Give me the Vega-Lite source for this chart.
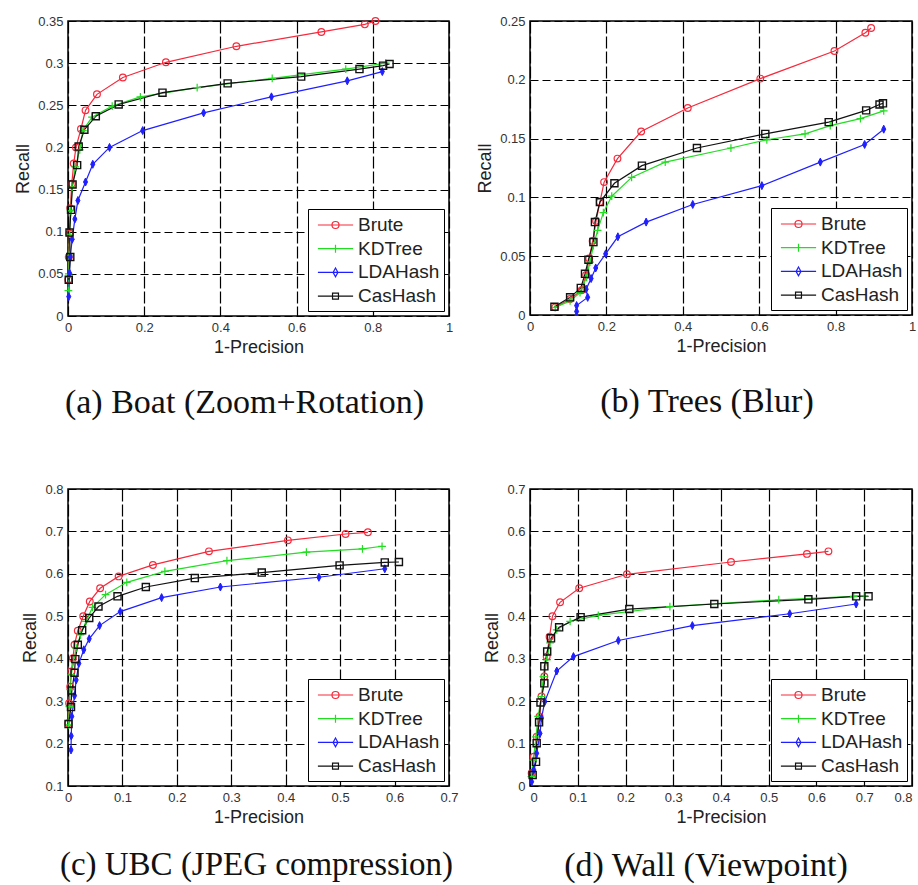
{
  "$schema": "https://vega.github.io/schema/vega-lite/v6.json",
  "background": "white",
  "padding": {"left": 13, "top": 14, "right": 0, "bottom": 0},
  "config": {
    "view": {"stroke": "black", "strokeWidth": 1.5},
    "font": "Liberation Sans",
    "axis": {"grid": true, "gridColor": "black", "gridWidth": 1.2, "gridOpacity": 1, "domain": false, "ticks": false, "labelFont": "Liberation Sans", "labelFontSize": 13, "labelColor": "#333", "labelPadding": 5, "labelFlush": false, "labelOverlap": false, "titleFont": "Liberation Sans", "titleFontSize": 18, "titleFontWeight": "normal", "titleColor": "#222", "format": "~g"},
    "axisX": {"titlePadding": 4, "gridDash": [12, 3]},
    "axisY": {"titlePadding": 5, "gridDash": [8, 4]},
    "title": {"orient": "bottom", "font": "Liberation Serif", "fontSize": 34, "fontWeight": "normal", "color": "#111", "offset": 30, "frame": "group"},
    "legend": {"orient": "bottom-right", "offset": 5, "strokeColor": "black", "fillColor": "white", "padding": 4, "symbolSize": 484, "rowPadding": 1.7, "symbolOffset": 11.5, "labelOffset": 10.5, "labelFont": "Liberation Sans", "labelFontSize": 19, "labelColor": "#222", "symbolStrokeWidth": 1.2, "symbolOpacity": 1, "symbolFillColor": "transparent", "title": null}
  },
  "datasets": {
    "a": [
      {"method": "Brute", "fp": 0.807, "recall": 0.350}, {"method": "Brute", "fp": 0.779, "recall": 0.346}, {"method": "Brute", "fp": 0.665, "recall": 0.337}, {"method": "Brute", "fp": 0.442, "recall": 0.320}, {"method": "Brute", "fp": 0.257, "recall": 0.301}, {"method": "Brute", "fp": 0.144, "recall": 0.283}, {"method": "Brute", "fp": 0.076, "recall": 0.263}, {"method": "Brute", "fp": 0.046, "recall": 0.244}, {"method": "Brute", "fp": 0.034, "recall": 0.222}, {"method": "Brute", "fp": 0.021, "recall": 0.200}, {"method": "Brute", "fp": 0.015, "recall": 0.181}, {"method": "Brute", "fp": 0.010, "recall": 0.157}, {"method": "Brute", "fp": 0.006, "recall": 0.128}, {"method": "Brute", "fp": 0.004, "recall": 0.098}, {"method": "Brute", "fp": 0.002, "recall": 0.070}, {"method": "Brute", "fp": 0.001, "recall": 0.043},
      {"method": "KDTree", "fp": 0.834, "recall": 0.300}, {"method": "KDTree", "fp": 0.729, "recall": 0.293}, {"method": "KDTree", "fp": 0.536, "recall": 0.282}, {"method": "KDTree", "fp": 0.339, "recall": 0.271}, {"method": "KDTree", "fp": 0.190, "recall": 0.260}, {"method": "KDTree", "fp": 0.116, "recall": 0.249}, {"method": "KDTree", "fp": 0.063, "recall": 0.236}, {"method": "KDTree", "fp": 0.039, "recall": 0.220}, {"method": "KDTree", "fp": 0.031, "recall": 0.197}, {"method": "KDTree", "fp": 0.019, "recall": 0.177}, {"method": "KDTree", "fp": 0.011, "recall": 0.153}, {"method": "KDTree", "fp": 0.007, "recall": 0.125}, {"method": "KDTree", "fp": 0.004, "recall": 0.097}, {"method": "KDTree", "fp": 0.003, "recall": 0.072}, {"method": "KDTree", "fp": 0.002, "recall": 0.050}, {"method": "KDTree", "fp": 0.001, "recall": 0.030},
      {"method": "LDAHash", "fp": 0.825, "recall": 0.290}, {"method": "LDAHash", "fp": 0.733, "recall": 0.279}, {"method": "LDAHash", "fp": 0.534, "recall": 0.260}, {"method": "LDAHash", "fp": 0.356, "recall": 0.241}, {"method": "LDAHash", "fp": 0.196, "recall": 0.220}, {"method": "LDAHash", "fp": 0.109, "recall": 0.200}, {"method": "LDAHash", "fp": 0.065, "recall": 0.180}, {"method": "LDAHash", "fp": 0.046, "recall": 0.159}, {"method": "LDAHash", "fp": 0.026, "recall": 0.137}, {"method": "LDAHash", "fp": 0.018, "recall": 0.115}, {"method": "LDAHash", "fp": 0.011, "recall": 0.091}, {"method": "LDAHash", "fp": 0.006, "recall": 0.070}, {"method": "LDAHash", "fp": 0.004, "recall": 0.051}, {"method": "LDAHash", "fp": 0.002, "recall": 0.023},
      {"method": "CasHash", "fp": 0.844, "recall": 0.299}, {"method": "CasHash", "fp": 0.827, "recall": 0.297}, {"method": "CasHash", "fp": 0.765, "recall": 0.293}, {"method": "CasHash", "fp": 0.612, "recall": 0.284}, {"method": "CasHash", "fp": 0.419, "recall": 0.276}, {"method": "CasHash", "fp": 0.248, "recall": 0.265}, {"method": "CasHash", "fp": 0.133, "recall": 0.251}, {"method": "CasHash", "fp": 0.073, "recall": 0.237}, {"method": "CasHash", "fp": 0.043, "recall": 0.221}, {"method": "CasHash", "fp": 0.028, "recall": 0.201}, {"method": "CasHash", "fp": 0.024, "recall": 0.179}, {"method": "CasHash", "fp": 0.012, "recall": 0.156}, {"method": "CasHash", "fp": 0.008, "recall": 0.126}, {"method": "CasHash", "fp": 0.004, "recall": 0.099}, {"method": "CasHash", "fp": 0.006, "recall": 0.070}, {"method": "CasHash", "fp": 0.002, "recall": 0.043}
    ],
    "b": [
      {"method": "Brute", "fp": 0.893, "recall": 0.244}, {"method": "Brute", "fp": 0.878, "recall": 0.240}, {"method": "Brute", "fp": 0.797, "recall": 0.2245}, {"method": "Brute", "fp": 0.603, "recall": 0.201}, {"method": "Brute", "fp": 0.413, "recall": 0.176}, {"method": "Brute", "fp": 0.291, "recall": 0.156}, {"method": "Brute", "fp": 0.229, "recall": 0.133}, {"method": "Brute", "fp": 0.194, "recall": 0.113}, {"method": "Brute", "fp": 0.183, "recall": 0.096}, {"method": "Brute", "fp": 0.173, "recall": 0.080}, {"method": "Brute", "fp": 0.164, "recall": 0.063}, {"method": "Brute", "fp": 0.155, "recall": 0.048}, {"method": "Brute", "fp": 0.147, "recall": 0.034}, {"method": "Brute", "fp": 0.135, "recall": 0.021}, {"method": "Brute", "fp": 0.105, "recall": 0.0136}, {"method": "Brute", "fp": 0.066, "recall": 0.0065},
      {"method": "KDTree", "fp": 0.926, "recall": 0.1736}, {"method": "KDTree", "fp": 0.865, "recall": 0.167}, {"method": "KDTree", "fp": 0.786, "recall": 0.161}, {"method": "KDTree", "fp": 0.720, "recall": 0.154}, {"method": "KDTree", "fp": 0.620, "recall": 0.149}, {"method": "KDTree", "fp": 0.526, "recall": 0.142}, {"method": "KDTree", "fp": 0.354, "recall": 0.130}, {"method": "KDTree", "fp": 0.266, "recall": 0.117}, {"method": "KDTree", "fp": 0.214, "recall": 0.101}, {"method": "KDTree", "fp": 0.192, "recall": 0.087}, {"method": "KDTree", "fp": 0.177, "recall": 0.072}, {"method": "KDTree", "fp": 0.166, "recall": 0.059}, {"method": "KDTree", "fp": 0.157, "recall": 0.045}, {"method": "KDTree", "fp": 0.148, "recall": 0.032}, {"method": "KDTree", "fp": 0.131, "recall": 0.019}, {"method": "KDTree", "fp": 0.105, "recall": 0.012}, {"method": "KDTree", "fp": 0.066, "recall": 0.0065},
      {"method": "LDAHash", "fp": 0.926, "recall": 0.158}, {"method": "LDAHash", "fp": 0.876, "recall": 0.145}, {"method": "LDAHash", "fp": 0.760, "recall": 0.130}, {"method": "LDAHash", "fp": 0.607, "recall": 0.110}, {"method": "LDAHash", "fp": 0.426, "recall": 0.094}, {"method": "LDAHash", "fp": 0.304, "recall": 0.079}, {"method": "LDAHash", "fp": 0.230, "recall": 0.0665}, {"method": "LDAHash", "fp": 0.198, "recall": 0.052}, {"method": "LDAHash", "fp": 0.172, "recall": 0.040}, {"method": "LDAHash", "fp": 0.160, "recall": 0.031}, {"method": "LDAHash", "fp": 0.147, "recall": 0.022}, {"method": "LDAHash", "fp": 0.151, "recall": 0.015}, {"method": "LDAHash", "fp": 0.122, "recall": 0.008}, {"method": "LDAHash", "fp": 0.122, "recall": 0.003},
      {"method": "CasHash", "fp": 0.924, "recall": 0.180}, {"method": "CasHash", "fp": 0.915, "recall": 0.179}, {"method": "CasHash", "fp": 0.880, "recall": 0.174}, {"method": "CasHash", "fp": 0.782, "recall": 0.164}, {"method": "CasHash", "fp": 0.616, "recall": 0.154}, {"method": "CasHash", "fp": 0.437, "recall": 0.142}, {"method": "CasHash", "fp": 0.293, "recall": 0.127}, {"method": "CasHash", "fp": 0.221, "recall": 0.112}, {"method": "CasHash", "fp": 0.183, "recall": 0.096}, {"method": "CasHash", "fp": 0.170, "recall": 0.079}, {"method": "CasHash", "fp": 0.166, "recall": 0.062}, {"method": "CasHash", "fp": 0.153, "recall": 0.047}, {"method": "CasHash", "fp": 0.144, "recall": 0.035}, {"method": "CasHash", "fp": 0.133, "recall": 0.023}, {"method": "CasHash", "fp": 0.105, "recall": 0.015}, {"method": "CasHash", "fp": 0.064, "recall": 0.007}
    ],
    "c": [
      {"method": "Brute", "fp": 0.551, "recall": 0.698}, {"method": "Brute", "fp": 0.510, "recall": 0.694}, {"method": "Brute", "fp": 0.404, "recall": 0.679}, {"method": "Brute", "fp": 0.259, "recall": 0.653}, {"method": "Brute", "fp": 0.156, "recall": 0.621}, {"method": "Brute", "fp": 0.093, "recall": 0.594}, {"method": "Brute", "fp": 0.059, "recall": 0.566}, {"method": "Brute", "fp": 0.040, "recall": 0.535}, {"method": "Brute", "fp": 0.028, "recall": 0.500}, {"method": "Brute", "fp": 0.018, "recall": 0.466}, {"method": "Brute", "fp": 0.012, "recall": 0.433}, {"method": "Brute", "fp": 0.009, "recall": 0.401}, {"method": "Brute", "fp": 0.006, "recall": 0.370}, {"method": "Brute", "fp": 0.004, "recall": 0.334}, {"method": "Brute", "fp": 0.002, "recall": 0.295}, {"method": "Brute", "fp": 0.0006, "recall": 0.248},
      {"method": "KDTree", "fp": 0.577, "recall": 0.665}, {"method": "KDTree", "fp": 0.541, "recall": 0.659}, {"method": "KDTree", "fp": 0.438, "recall": 0.651}, {"method": "KDTree", "fp": 0.292, "recall": 0.631}, {"method": "KDTree", "fp": 0.178, "recall": 0.606}, {"method": "KDTree", "fp": 0.108, "recall": 0.580}, {"method": "KDTree", "fp": 0.069, "recall": 0.551}, {"method": "KDTree", "fp": 0.045, "recall": 0.521}, {"method": "KDTree", "fp": 0.033, "recall": 0.488}, {"method": "KDTree", "fp": 0.023, "recall": 0.456}, {"method": "KDTree", "fp": 0.015, "recall": 0.425}, {"method": "KDTree", "fp": 0.010, "recall": 0.393}, {"method": "KDTree", "fp": 0.006, "recall": 0.362}, {"method": "KDTree", "fp": 0.004, "recall": 0.327}, {"method": "KDTree", "fp": 0.0025, "recall": 0.287}, {"method": "KDTree", "fp": 0.001, "recall": 0.244},
      {"method": "LDAHash", "fp": 0.582, "recall": 0.612}, {"method": "LDAHash", "fp": 0.461, "recall": 0.592}, {"method": "LDAHash", "fp": 0.280, "recall": 0.569}, {"method": "LDAHash", "fp": 0.172, "recall": 0.544}, {"method": "LDAHash", "fp": 0.096, "recall": 0.511}, {"method": "LDAHash", "fp": 0.058, "recall": 0.478}, {"method": "LDAHash", "fp": 0.039, "recall": 0.447}, {"method": "LDAHash", "fp": 0.029, "recall": 0.421}, {"method": "LDAHash", "fp": 0.020, "recall": 0.389}, {"method": "LDAHash", "fp": 0.015, "recall": 0.350}, {"method": "LDAHash", "fp": 0.012, "recall": 0.313}, {"method": "LDAHash", "fp": 0.007, "recall": 0.264}, {"method": "LDAHash", "fp": 0.006, "recall": 0.218}, {"method": "LDAHash", "fp": 0.0055, "recall": 0.185},
      {"method": "CasHash", "fp": 0.608, "recall": 0.628}, {"method": "CasHash", "fp": 0.582, "recall": 0.627}, {"method": "CasHash", "fp": 0.499, "recall": 0.620}, {"method": "CasHash", "fp": 0.356, "recall": 0.603}, {"method": "CasHash", "fp": 0.233, "recall": 0.590}, {"method": "CasHash", "fp": 0.143, "recall": 0.569}, {"method": "CasHash", "fp": 0.091, "recall": 0.547}, {"method": "CasHash", "fp": 0.056, "recall": 0.523}, {"method": "CasHash", "fp": 0.039, "recall": 0.496}, {"method": "CasHash", "fp": 0.026, "recall": 0.467}, {"method": "CasHash", "fp": 0.018, "recall": 0.433}, {"method": "CasHash", "fp": 0.0135, "recall": 0.399}, {"method": "CasHash", "fp": 0.012, "recall": 0.367}, {"method": "CasHash", "fp": 0.007, "recall": 0.325}, {"method": "CasHash", "fp": 0.0055, "recall": 0.286}, {"method": "CasHash", "fp": 0.001, "recall": 0.246}
    ],
    "d": [
      {"method": "Brute", "fp": 0.625, "recall": 0.553}, {"method": "Brute", "fp": 0.580, "recall": 0.547}, {"method": "Brute", "fp": 0.421, "recall": 0.528}, {"method": "Brute", "fp": 0.203, "recall": 0.499}, {"method": "Brute", "fp": 0.103, "recall": 0.466}, {"method": "Brute", "fp": 0.063, "recall": 0.433}, {"method": "Brute", "fp": 0.047, "recall": 0.400}, {"method": "Brute", "fp": 0.041, "recall": 0.352}, {"method": "Brute", "fp": 0.035, "recall": 0.305}, {"method": "Brute", "fp": 0.030, "recall": 0.258}, {"method": "Brute", "fp": 0.024, "recall": 0.211}, {"method": "Brute", "fp": 0.020, "recall": 0.164}, {"method": "Brute", "fp": 0.014, "recall": 0.116}, {"method": "Brute", "fp": 0.008, "recall": 0.069}, {"method": "Brute", "fp": 0.0035, "recall": 0.030},
      {"method": "KDTree", "fp": 0.700, "recall": 0.448}, {"method": "KDTree", "fp": 0.678, "recall": 0.447}, {"method": "KDTree", "fp": 0.521, "recall": 0.439}, {"method": "KDTree", "fp": 0.293, "recall": 0.423}, {"method": "KDTree", "fp": 0.143, "recall": 0.402}, {"method": "KDTree", "fp": 0.084, "recall": 0.388}, {"method": "KDTree", "fp": 0.056, "recall": 0.368}, {"method": "KDTree", "fp": 0.042, "recall": 0.337}, {"method": "KDTree", "fp": 0.035, "recall": 0.297}, {"method": "KDTree", "fp": 0.028, "recall": 0.258}, {"method": "KDTree", "fp": 0.024, "recall": 0.211}, {"method": "KDTree", "fp": 0.017, "recall": 0.164}, {"method": "KDTree", "fp": 0.0126, "recall": 0.116}, {"method": "KDTree", "fp": 0.007, "recall": 0.061}, {"method": "KDTree", "fp": 0.003, "recall": 0.022},
      {"method": "LDAHash", "fp": 0.683, "recall": 0.429}, {"method": "LDAHash", "fp": 0.544, "recall": 0.406}, {"method": "LDAHash", "fp": 0.340, "recall": 0.378}, {"method": "LDAHash", "fp": 0.185, "recall": 0.343}, {"method": "LDAHash", "fp": 0.091, "recall": 0.305}, {"method": "LDAHash", "fp": 0.056, "recall": 0.271}, {"method": "LDAHash", "fp": 0.031, "recall": 0.199}, {"method": "LDAHash", "fp": 0.024, "recall": 0.160}, {"method": "LDAHash", "fp": 0.021, "recall": 0.124}, {"method": "LDAHash", "fp": 0.014, "recall": 0.077}, {"method": "LDAHash", "fp": 0.008, "recall": 0.038}, {"method": "LDAHash", "fp": 0.0035, "recall": 0.010},
      {"method": "CasHash", "fp": 0.709, "recall": 0.447}, {"method": "CasHash", "fp": 0.683, "recall": 0.447}, {"method": "CasHash", "fp": 0.583, "recall": 0.440}, {"method": "CasHash", "fp": 0.386, "recall": 0.429}, {"method": "CasHash", "fp": 0.208, "recall": 0.417}, {"method": "CasHash", "fp": 0.106, "recall": 0.398}, {"method": "CasHash", "fp": 0.061, "recall": 0.374}, {"method": "CasHash", "fp": 0.044, "recall": 0.348}, {"method": "CasHash", "fp": 0.036, "recall": 0.317}, {"method": "CasHash", "fp": 0.030, "recall": 0.282}, {"method": "CasHash", "fp": 0.030, "recall": 0.242}, {"method": "CasHash", "fp": 0.022, "recall": 0.197}, {"method": "CasHash", "fp": 0.019, "recall": 0.150}, {"method": "CasHash", "fp": 0.014, "recall": 0.101}, {"method": "CasHash", "fp": 0.0126, "recall": 0.057}, {"method": "CasHash", "fp": 0.0056, "recall": 0.026}
    ]
  },
  "columns": 2,
  "bounds": "flush",
  "spacing": {"row": 173, "column": 81},
  "concat": [
    {
      "width": 381, "height": 295,
      "data": {"name": "a"},
      "title": {"text": "(a) Boat (Zoom+Rotation)", "dx": -14},
      "encoding": {
        "x": {"field": "fp", "type": "quantitative", "scale": {"domain": [0, 1], "nice": false, "zero": false}, "axis": {"title": "1-Precision", "values": [0, 0.2, 0.4, 0.6, 0.8, 1]}},
        "y": {"field": "recall", "type": "quantitative", "scale": {"domain": [0, 0.35], "nice": false, "zero": false}, "axis": {"title": "Recall", "values": [0, 0.05, 0.1, 0.15, 0.2, 0.25, 0.3, 0.35]}},
        "color": {"field": "method", "type": "nominal", "scale": {"domain": ["Brute", "KDTree", "LDAHash", "CasHash"], "range": ["#f52a3c", "#22dd22", "#1f1fff", "#111111"]}, "legend": {"symbolOpacity": 1, "symbolFillColor": "transparent", "encode": {"symbols": {"update": {"fill": {"value": "transparent"}}}}}}
      },
      "layer": [
        {"mark": {"type": "point", "filled": false, "opacity": 0},
         "encoding": {"shape": {"field": "method", "type": "nominal", "scale": {"domain": ["Brute", "KDTree", "LDAHash", "CasHash"], "range": ["M-1.6,0H1.6M0.32,0A0.32,0.32 0 1 1 -0.32,0A0.32,0.32 0 1 1 0.32,0Z", "M-1.6,0H1.6M0,-0.36V0.36", "M-1.6,0H1.6M0,-0.4L0.22,0L0,0.4L-0.22,0Z", "M-1.6,0H1.6M-0.27,-0.27H0.27V0.27H-0.27Z"]}, "legend": {"symbolOpacity": 1, "symbolFillColor": "transparent", "encode": {"symbols": {"update": {"fill": {"value": "transparent"}}}}}}}},
        {"mark": {"type": "line", "strokeWidth": 1.2}, "encoding": {"order": {"value": null}}},
        {"transform": [{"filter": {"field": "method", "equal": "Brute"}}], "mark": {"type": "point", "shape": "circle", "filled": false, "size": 45, "strokeWidth": 1.2, "opacity": 1}},
        {"transform": [{"filter": {"field": "method", "equal": "KDTree"}}], "mark": {"type": "point", "shape": "M-1,0H1M0,-1V1", "filled": false, "size": 60, "strokeWidth": 1.2, "opacity": 1}},
        {"transform": [{"filter": {"field": "method", "equal": "LDAHash"}}], "mark": {"type": "point", "shape": "M0,-1L0.5,0L0,1L-0.5,0Z", "filled": false, "fill": "#1f1fff", "size": 64, "strokeWidth": 1, "opacity": 1}},
        {"transform": [{"filter": {"field": "method", "equal": "CasHash"}}], "mark": {"type": "point", "shape": "square", "filled": false, "size": 50, "strokeWidth": 1.4, "opacity": 1}}
      ]
    },
    {
      "width": 382, "height": 294,
      "data": {"name": "b"},
      "title": {"text": "(b) Trees (Blur)", "dx": -14},
      "encoding": {
        "x": {"field": "fp", "type": "quantitative", "scale": {"domain": [0, 1], "nice": false, "zero": false}, "axis": {"title": "1-Precision", "values": [0, 0.2, 0.4, 0.6, 0.8, 1]}},
        "y": {"field": "recall", "type": "quantitative", "scale": {"domain": [0, 0.25], "nice": false, "zero": false}, "axis": {"title": "Recall", "values": [0, 0.05, 0.1, 0.15, 0.2, 0.25]}},
        "color": {"field": "method", "type": "nominal", "scale": {"domain": ["Brute", "KDTree", "LDAHash", "CasHash"], "range": ["#f52a3c", "#22dd22", "#1f1fff", "#111111"]}, "legend": {"symbolOpacity": 1, "symbolFillColor": "transparent", "encode": {"symbols": {"update": {"fill": {"value": "transparent"}}}}}}
      },
      "layer": [
        {"mark": {"type": "point", "filled": false, "opacity": 0},
         "encoding": {"shape": {"field": "method", "type": "nominal", "scale": {"domain": ["Brute", "KDTree", "LDAHash", "CasHash"], "range": ["M-1.6,0H1.6M0.32,0A0.32,0.32 0 1 1 -0.32,0A0.32,0.32 0 1 1 0.32,0Z", "M-1.6,0H1.6M0,-0.36V0.36", "M-1.6,0H1.6M0,-0.4L0.22,0L0,0.4L-0.22,0Z", "M-1.6,0H1.6M-0.27,-0.27H0.27V0.27H-0.27Z"]}, "legend": {"symbolOpacity": 1, "symbolFillColor": "transparent", "encode": {"symbols": {"update": {"fill": {"value": "transparent"}}}}}}}},
        {"mark": {"type": "line", "strokeWidth": 1.2}, "encoding": {"order": {"value": null}}},
        {"transform": [{"filter": {"field": "method", "equal": "Brute"}}], "mark": {"type": "point", "shape": "circle", "filled": false, "size": 45, "strokeWidth": 1.2, "opacity": 1}},
        {"transform": [{"filter": {"field": "method", "equal": "KDTree"}}], "mark": {"type": "point", "shape": "M-1,0H1M0,-1V1", "filled": false, "size": 60, "strokeWidth": 1.2, "opacity": 1}},
        {"transform": [{"filter": {"field": "method", "equal": "LDAHash"}}], "mark": {"type": "point", "shape": "M0,-1L0.5,0L0,1L-0.5,0Z", "filled": false, "fill": "#1f1fff", "size": 64, "strokeWidth": 1, "opacity": 1}},
        {"transform": [{"filter": {"field": "method", "equal": "CasHash"}}], "mark": {"type": "point", "shape": "square", "filled": false, "size": 50, "strokeWidth": 1.4, "opacity": 1}}
      ]
    },
    {
      "width": 381, "height": 297,
      "data": {"name": "c"},
      "title": {"text": "(c) UBC (JPEG compression)", "dx": -2, "offset": 23, "fontSize": 33},
      "encoding": {
        "x": {"field": "fp", "type": "quantitative", "scale": {"domain": [0, 0.7], "nice": false, "zero": false}, "axis": {"title": "1-Precision", "values": [0, 0.1, 0.2, 0.3, 0.4, 0.5, 0.6, 0.7]}},
        "y": {"field": "recall", "type": "quantitative", "scale": {"domain": [0.1, 0.8], "nice": false, "zero": false}, "axis": {"title": "Recall", "values": [0.1, 0.2, 0.3, 0.4, 0.5, 0.6, 0.7, 0.8]}},
        "color": {"field": "method", "type": "nominal", "scale": {"domain": ["Brute", "KDTree", "LDAHash", "CasHash"], "range": ["#f52a3c", "#22dd22", "#1f1fff", "#111111"]}, "legend": {"symbolOpacity": 1, "symbolFillColor": "transparent", "encode": {"symbols": {"update": {"fill": {"value": "transparent"}}}}}}
      },
      "layer": [
        {"mark": {"type": "point", "filled": false, "opacity": 0},
         "encoding": {"shape": {"field": "method", "type": "nominal", "scale": {"domain": ["Brute", "KDTree", "LDAHash", "CasHash"], "range": ["M-1.6,0H1.6M0.32,0A0.32,0.32 0 1 1 -0.32,0A0.32,0.32 0 1 1 0.32,0Z", "M-1.6,0H1.6M0,-0.36V0.36", "M-1.6,0H1.6M0,-0.4L0.22,0L0,0.4L-0.22,0Z", "M-1.6,0H1.6M-0.27,-0.27H0.27V0.27H-0.27Z"]}, "legend": {"symbolOpacity": 1, "symbolFillColor": "transparent", "encode": {"symbols": {"update": {"fill": {"value": "transparent"}}}}}}}},
        {"mark": {"type": "line", "strokeWidth": 1.2}, "encoding": {"order": {"value": null}}},
        {"transform": [{"filter": {"field": "method", "equal": "Brute"}}], "mark": {"type": "point", "shape": "circle", "filled": false, "size": 45, "strokeWidth": 1.2, "opacity": 1}},
        {"transform": [{"filter": {"field": "method", "equal": "KDTree"}}], "mark": {"type": "point", "shape": "M-1,0H1M0,-1V1", "filled": false, "size": 60, "strokeWidth": 1.2, "opacity": 1}},
        {"transform": [{"filter": {"field": "method", "equal": "LDAHash"}}], "mark": {"type": "point", "shape": "M0,-1L0.5,0L0,1L-0.5,0Z", "filled": false, "fill": "#1f1fff", "size": 64, "strokeWidth": 1, "opacity": 1}},
        {"transform": [{"filter": {"field": "method", "equal": "CasHash"}}], "mark": {"type": "point", "shape": "square", "filled": false, "size": 50, "strokeWidth": 1.4, "opacity": 1}}
      ]
    },
    {
      "width": 382, "height": 297,
      "data": {"name": "d"},
      "title": {"text": "(d) Wall (Viewpoint)", "dx": -15, "offset": 23},
      "encoding": {
        "x": {"field": "fp", "type": "quantitative", "scale": {"domain": [0, 0.8], "nice": false, "zero": false}, "axis": {"title": "1-Precision", "values": [0, 0.1, 0.2, 0.3, 0.4, 0.5, 0.6, 0.7, 0.8], "labelFlush": true}},
        "y": {"field": "recall", "type": "quantitative", "scale": {"domain": [0, 0.7], "nice": false, "zero": false}, "axis": {"title": "Recall", "values": [0, 0.1, 0.2, 0.3, 0.4, 0.5, 0.6, 0.7]}},
        "color": {"field": "method", "type": "nominal", "scale": {"domain": ["Brute", "KDTree", "LDAHash", "CasHash"], "range": ["#f52a3c", "#22dd22", "#1f1fff", "#111111"]}, "legend": {"symbolOpacity": 1, "symbolFillColor": "transparent", "encode": {"symbols": {"update": {"fill": {"value": "transparent"}}}}}}
      },
      "layer": [
        {"mark": {"type": "point", "filled": false, "opacity": 0},
         "encoding": {"shape": {"field": "method", "type": "nominal", "scale": {"domain": ["Brute", "KDTree", "LDAHash", "CasHash"], "range": ["M-1.6,0H1.6M0.32,0A0.32,0.32 0 1 1 -0.32,0A0.32,0.32 0 1 1 0.32,0Z", "M-1.6,0H1.6M0,-0.36V0.36", "M-1.6,0H1.6M0,-0.4L0.22,0L0,0.4L-0.22,0Z", "M-1.6,0H1.6M-0.27,-0.27H0.27V0.27H-0.27Z"]}, "legend": {"symbolOpacity": 1, "symbolFillColor": "transparent", "encode": {"symbols": {"update": {"fill": {"value": "transparent"}}}}}}}},
        {"mark": {"type": "line", "strokeWidth": 1.2}, "encoding": {"order": {"value": null}}},
        {"transform": [{"filter": {"field": "method", "equal": "Brute"}}], "mark": {"type": "point", "shape": "circle", "filled": false, "size": 45, "strokeWidth": 1.2, "opacity": 1}},
        {"transform": [{"filter": {"field": "method", "equal": "KDTree"}}], "mark": {"type": "point", "shape": "M-1,0H1M0,-1V1", "filled": false, "size": 60, "strokeWidth": 1.2, "opacity": 1}},
        {"transform": [{"filter": {"field": "method", "equal": "LDAHash"}}], "mark": {"type": "point", "shape": "M0,-1L0.5,0L0,1L-0.5,0Z", "filled": false, "fill": "#1f1fff", "size": 64, "strokeWidth": 1, "opacity": 1}},
        {"transform": [{"filter": {"field": "method", "equal": "CasHash"}}], "mark": {"type": "point", "shape": "square", "filled": false, "size": 50, "strokeWidth": 1.4, "opacity": 1}}
      ]
    }
  ],
  "resolve": {"legend": {"color": "independent", "shape": "independent"}, "scale": {"x": "independent", "y": "independent"}}
}
